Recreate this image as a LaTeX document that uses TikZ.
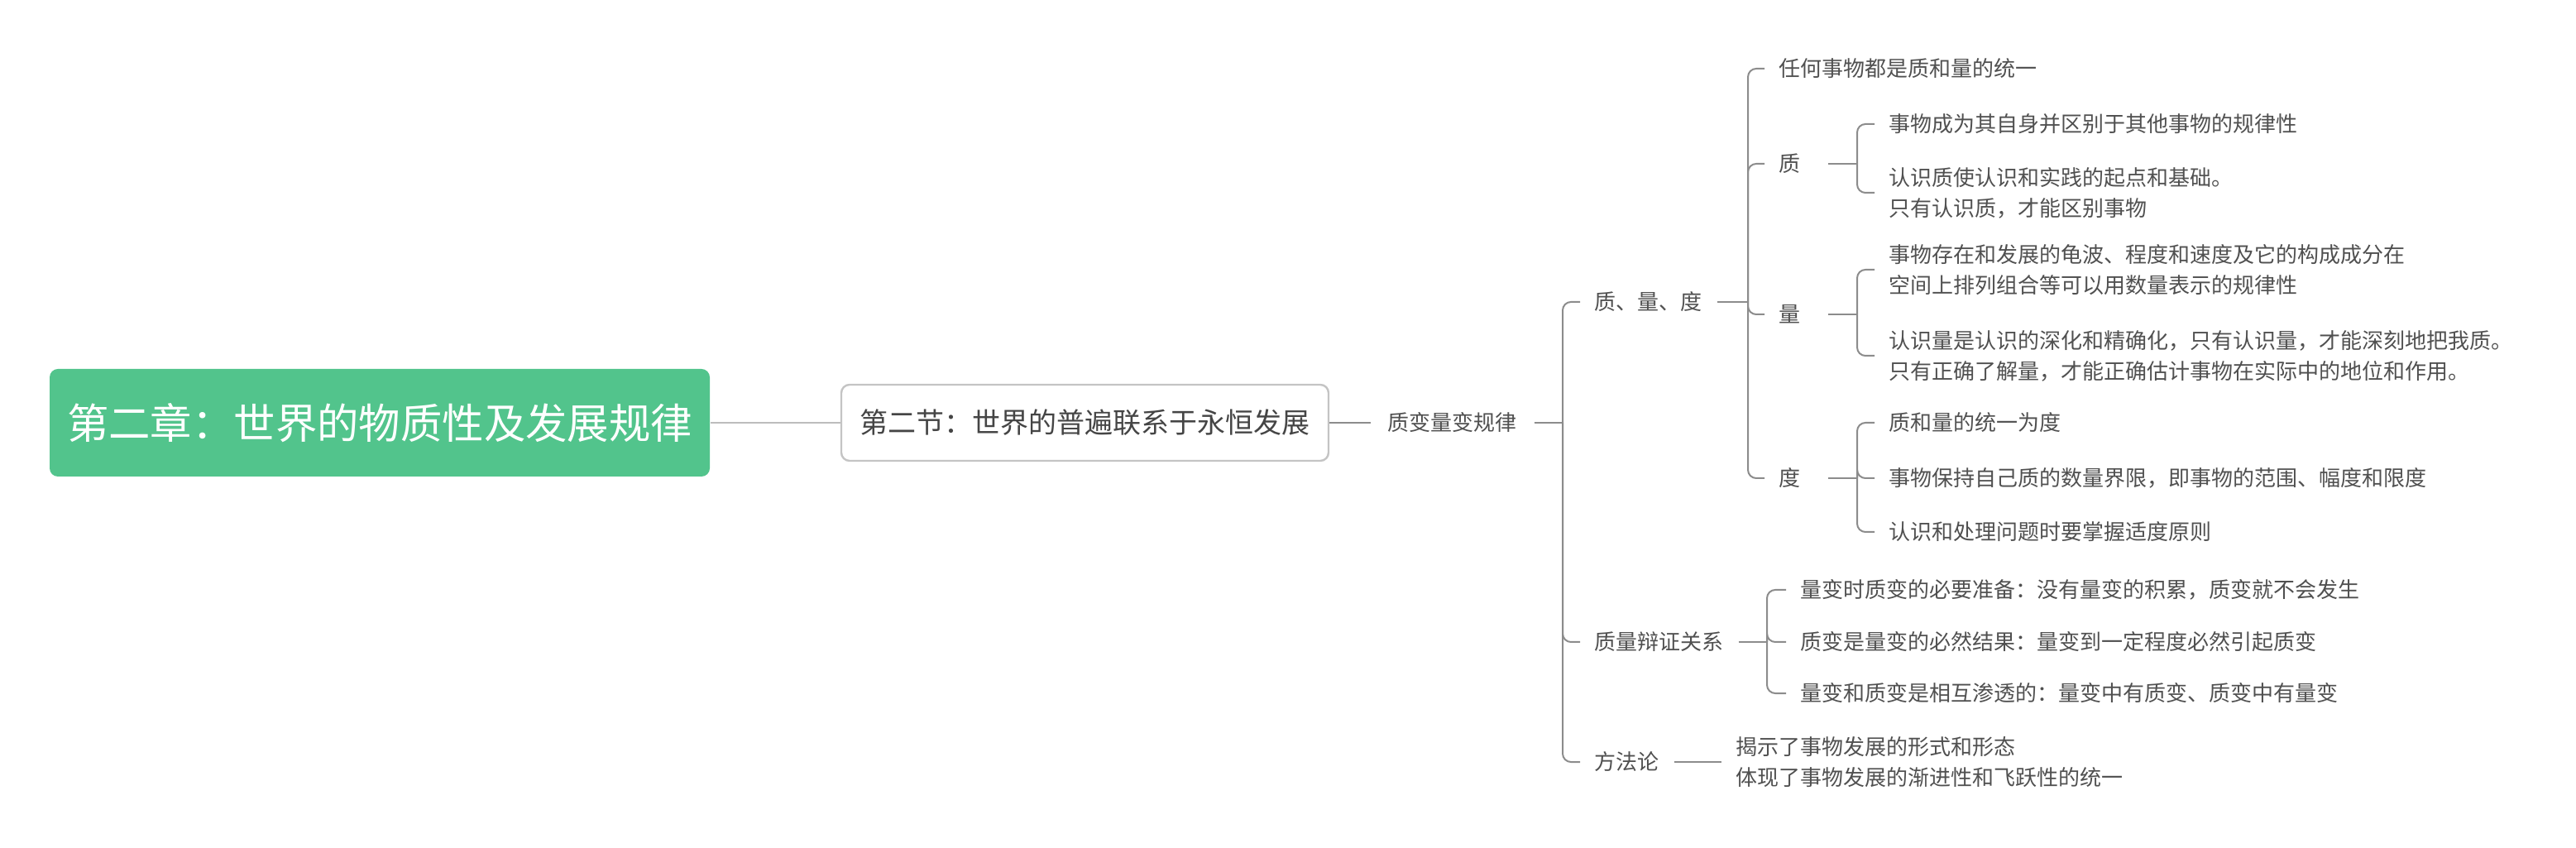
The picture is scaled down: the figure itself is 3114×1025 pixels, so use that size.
\documentclass[tikz,border=0pt]{standalone}
\usepackage{fontspec}
\setmainfont{Noto Sans CJK SC}
\definecolor{rootgreen}{HTML}{52C48C}
\definecolor{linegray}{HTML}{8C8C8C}
\definecolor{lightline}{HTML}{BDBDBD}
\definecolor{boxborder}{HTML}{C4C4C4}
\definecolor{txtgray}{HTML}{505050}
\definecolor{sectxt}{HTML}{454545}
\begin{document}
\begin{tikzpicture}[x=0.25pt,y=-0.25pt,
  conn/.style={draw=linegray, line width=0.5pt, rounded corners=2.5pt},
  leaf/.style={anchor=west, inner xsep=4.25pt, inner ysep=1pt, text=txtgray,
    font=\fontsize{6.5pt}{9.25pt}\selectfont, align=left},
  rootbox/.style={fill=rootgreen, rounded corners=2.5pt, text=white,
    minimum width=199.5pt, minimum height=32.5pt, inner sep=0pt,
    font=\fontsize{12.6pt}{14pt}\selectfont},
  secbox/.style={draw=boxborder, line width=0.6pt, fill=white, rounded corners=2.5pt,
    text=sectxt, minimum width=147.25pt, minimum height=23pt, inner sep=0pt,
    font=\fontsize{8.5pt}{10pt}\selectfont}]
\useasboundingbox (0,0) rectangle (3114,1025);

\node[rootbox] (root) at (459,511) {第二章：世界的物质性及发展规律};
\node[secbox] (sec) at (1311.5,511) {第二节：世界的普遍联系于永恒发展};
\node[leaf, inner xsep=5pt] (zb) at (1657,511) {质变量变规律};

\node[leaf] (qld) at (1910,365) {质、量、度};
\node[leaf] (bz) at (1910,776) {质量辩证关系};
\node[leaf] (ff) at (1910,921) {方法论};

\node[leaf] (t1) at (2133,83) {任何事物都是质和量的统一};
\node[leaf] (zhi) at (2133,198) {质};
\node[leaf] (liang) at (2133,380) {量};
\node[leaf] (du) at (2133,578) {度};

\node[leaf] (a1) at (2266,150) {事物成为其自身并区别于其他事物的规律性};
\node[leaf] (a2) at (2266,233) {认识质使认识和实践的起点和基础。\\只有认识质，才能区别事物};

\node[leaf] (b1) at (2266,326) {事物存在和发展的龟波、程度和速度及它的构成成分在\\空间上排列组合等可以用数量表示的规律性};
\node[leaf] (b2) at (2266,430) {认识量是认识的深化和精确化，只有认识量，才能深刻地把我质。\\只有正确了解量，才能正确估计事物在实际中的地位和作用。};

\node[leaf] (c1) at (2266,511) {质和量的统一为度};
\node[leaf] (c2) at (2266,578) {事物保持自己质的数量界限，即事物的范围、幅度和限度};
\node[leaf] (c3) at (2266,643) {认识和处理问题时要掌握适度原则};

\node[leaf] (d1) at (2159,713) {量变时质变的必要准备：没有量变的积累，质变就不会发生};
\node[leaf] (d2) at (2159,776) {质变是量变的必然结果：量变到一定程度必然引起质变};
\node[leaf] (d3) at (2159,838) {量变和质变是相互渗透的：量变中有质变、质变中有量变};

\node[leaf] (e1) at (2081,921) {揭示了事物发展的形式和形态\\体现了事物发展的渐进性和飞跃性的统一};

\coordinate (J1) at (1889,511);
\coordinate (J2) at (2113,365);
\coordinate (J3) at (2245,198);
\coordinate (J4) at (2245,380);
\coordinate (J5) at (2245,578);
\coordinate (J6) at (2136,776);

\draw[draw=lightline, line width=0.5pt] (root.east) -- (sec.west);
\draw[conn] (sec.east) -- (zb.west);
\draw[conn] (zb.east) -- (J1);
\foreach \c in {qld,bz,ff} \draw[conn] (J1) |- (\c.west);

\draw[conn] (qld.east) -- (J2);
\foreach \c in {t1,zhi,liang,du} \draw[conn] (J2) |- (\c.west);

\draw[conn] ([xshift=3.75pt]zhi.east) -- (J3);
\foreach \c in {a1,a2} \draw[conn] (J3) |- (\c.west);

\draw[conn] ([xshift=3.75pt]liang.east) -- (J4);
\foreach \c in {b1,b2} \draw[conn] (J4) |- (\c.west);

\draw[conn] ([xshift=3.75pt]du.east) -- (J5);
\foreach \c in {c1,c2,c3} \draw[conn] (J5) |- (\c.west);

\draw[conn] (bz.east) -- (J6);
\foreach \c in {d1,d2,d3} \draw[conn] (J6) |- (\c.west);

\draw[conn] (ff.east) -- (e1.west);
\end{tikzpicture}
\end{document}
